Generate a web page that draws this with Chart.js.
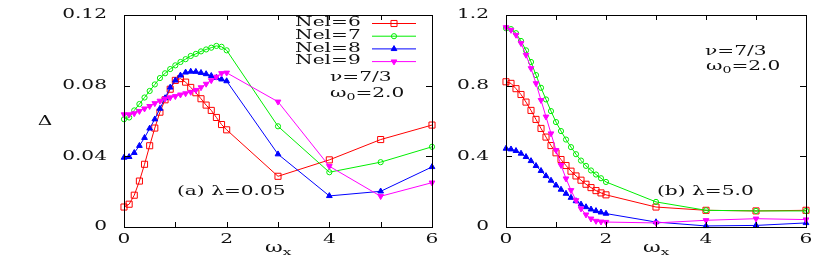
<!DOCTYPE html>
<html>
<head>
<meta charset="utf-8">
<script src="https://cdn.jsdelivr.net/npm/chart.js@4.4.1/dist/chart.umd.min.js"></script>
<style>
  html, body { margin: 0; padding: 0; background: #fff; }
  #wrap { position: relative; width: 830px; height: 273px; overflow: hidden; }
  #wrap canvas { position: absolute; top: 0; }
  #left { left: 0; }
  #right { left: 440px; }
</style>
</head>
<body>
<div id="wrap">
  <canvas id="left" width="440" height="273"></canvas>
  <canvas id="right" width="390" height="273"></canvas>
</div>
<script>
// omega_x sample points (same for every curve)
const omegaX = [0, 0.1, 0.2, 0.3, 0.4, 0.5, 0.6, 0.7, 0.8, 0.9, 1.0,
  1.1, 1.2, 1.3, 1.4, 1.5, 1.6, 1.7, 1.8, 1.9, 2.0, 3, 4, 5, 6];

const seriesNames = ['Nel=6', 'Nel=7', 'Nel=8', 'Nel=9'];

// (a) lambda = 0.05
const gapA6 = [0.0113, 0.0129, 0.018, 0.026, 0.0355, 0.046, 0.056, 0.065, 0.072, 0.078, 0.083,
  0.084, 0.082, 0.079, 0.076, 0.0726, 0.069, 0.066, 0.062, 0.058, 0.055, 0.0287, 0.038, 0.0495, 0.0577];
const gapA7 = [0.061, 0.062, 0.066, 0.0696, 0.0733, 0.077, 0.0807, 0.0843, 0.087, 0.0894, 0.0915,
  0.0934, 0.095, 0.0968, 0.098, 0.0994, 0.1005, 0.1015, 0.1025, 0.102, 0.100, 0.057, 0.031, 0.0367, 0.0454];
const gapA8 = [0.0393, 0.0397, 0.042, 0.046, 0.0505, 0.0558, 0.061, 0.067, 0.073, 0.079, 0.083,
  0.0858, 0.0875, 0.088, 0.0879, 0.0873, 0.0866, 0.0856, 0.0845, 0.0836, 0.0826, 0.0412, 0.0176, 0.0202, 0.034];
const gapA9 = [0.0637, 0.0637, 0.0643, 0.0656, 0.067, 0.0684, 0.070, 0.0714, 0.0726, 0.0733, 0.074,
  0.0749, 0.0756, 0.0764, 0.0775, 0.079, 0.081, 0.083, 0.085, 0.087, 0.0873, 0.0709, 0.0344, 0.0174, 0.0251];

// (b) lambda = 5.0
const gapB6 = [0.822, 0.813, 0.783, 0.75, 0.707, 0.66, 0.609, 0.558, 0.509, 0.461, 0.42,
  0.382, 0.348, 0.316, 0.289, 0.265, 0.242, 0.223, 0.206, 0.193, 0.182, 0.113, 0.0945, 0.091, 0.0945];
const gapB7 = [1.125, 1.12, 1.097, 1.053, 1.0, 0.934, 0.86, 0.788, 0.722, 0.656, 0.594,
  0.543, 0.495, 0.452, 0.412, 0.376, 0.346, 0.32, 0.297, 0.276, 0.255, 0.142, 0.0945, 0.091, 0.091];
const gapB8 = [0.444, 0.44, 0.431, 0.416, 0.397, 0.374, 0.346, 0.318, 0.289, 0.263, 0.236,
  0.212, 0.189, 0.166, 0.147, 0.128, 0.113, 0.1, 0.091, 0.083, 0.076, 0.028, 0.006, 0.009, 0.023];
const gapB9 = [1.13, 1.115, 1.087, 1.04, 0.974, 0.898, 0.813, 0.718, 0.624, 0.529, 0.435,
  0.35, 0.274, 0.208, 0.151, 0.104, 0.07, 0.047, 0.034, 0.03, 0.028, 0.023, 0.038, 0.047, 0.042];

// axis ticks
const xTickLabels = ['0', '2', '4', '6'];
const yTicksA = [0, 0.04, 0.08, 0.12];
const yTickLabelsA = ['0', '0.04', '0.08', '0.12'];
const yTicksB = [0, 0.4, 0.8, 1.2];
const yTickLabelsB = ['0', '0.4', '0.8', '1.2'];

const FONT = '"DejaVu Serif", serif';
const SX = 1.55;     // glyphs in the original are stretched sideways
const INK = '#111';

const styles = [
  { color: '#ff0000', point: 'rect', radius: 4.3, fill: 'rgba(0,0,0,0)', rot: 0 },
  { color: '#00ee00', point: 'circle', radius: 2.6, fill: 'rgba(0,0,0,0)', rot: 0 },
  { color: '#0000ff', point: 'triangle', radius: 3.3, fill: '#0000ff', rot: 0 },
  { color: '#ff00ff', point: 'triangle', radius: 3.3, fill: '#ff00ff', rot: 180 }
];

function makeDatasets(lists) {
  return lists.map((vals, i) => ({
    label: seriesNames[i],
    data: omegaX.map((x, k) => ({ x: x, y: vals[k] })),
    borderColor: styles[i].color,
    borderWidth: 1,
    pointStyle: styles[i].point,
    pointRadius: styles[i].radius,
    pointRotation: styles[i].rot,
    pointBackgroundColor: styles[i].fill,
    pointBorderColor: styles[i].color,
    pointBorderWidth: 1,
    tension: 0,
    clip: false,
    order: 4 - i
  }));
}

function stretchText(ctx, str, x, y, align, size) {
  ctx.save();
  ctx.font = size + 'px ' + FONT;
  ctx.translate(x, y);
  ctx.scale(SX, 1);
  ctx.textAlign = align || 'left';
  ctx.textBaseline = 'middle';
  ctx.fillText(str, 0, 0);
  const w = ctx.measureText(str).width * SX;
  ctx.restore();
  return w;
}

// text made of pieces: [string, isSubscript]
function richText(ctx, parts, x, y, size) {
  let cx = x;
  parts.forEach(p => {
    if (p[1]) {
      cx += stretchText(ctx, p[0], cx, y + size * 0.3, 'left', size * 0.7);
    } else {
      cx += stretchText(ctx, p[0], cx, y, 'left', size);
    }
  });
}

function marker(ctx, st, x, y) {
  ctx.save();
  ctx.strokeStyle = st.color;
  ctx.fillStyle = st.fill;
  ctx.lineWidth = 1;
  ctx.beginPath();
  const r = st.radius;
  if (st.point === 'rect') {
    const s = Math.SQRT1_2 * r;
    ctx.rect(x - s, y - s, 2 * s, 2 * s);
  } else if (st.point === 'circle') {
    ctx.arc(x, y, r, 0, Math.PI * 2);
  } else {
    const a0 = (st.rot - 90) * Math.PI / 180;
    for (let k = 0; k < 3; k++) {
      const a = a0 + k * 2 * Math.PI / 3;
      const px = x + Math.cos(a) * r, py = y + Math.sin(a) * r;
      if (k === 0) ctx.moveTo(px, py); else ctx.lineTo(px, py);
    }
    ctx.closePath();
  }
  ctx.fill();
  ctx.stroke();
  ctx.restore();
}

const framePlugin = {
  id: 'frame',
  afterDraw(chart, args, opts) {
    const { ctx, chartArea: a, scales: { x, y } } = chart;
    ctx.save();
    ctx.strokeStyle = '#000';
    ctx.lineWidth = 1;
    ctx.strokeRect(Math.round(a.left) + 0.5, Math.round(a.top) + 0.5,
      Math.round(a.width), Math.round(a.height));
    ctx.beginPath();
    x.ticks.forEach(t => {
      const px = Math.round(x.getPixelForValue(t.value)) + 0.5;
      ctx.moveTo(px, a.bottom); ctx.lineTo(px, a.bottom - 5);
      ctx.moveTo(px, a.top); ctx.lineTo(px, a.top + 5);
    });
    opts.yTicks.forEach(v => {
      const py = Math.round(y.getPixelForValue(v)) + 0.5;
      ctx.moveTo(a.left, py); ctx.lineTo(a.left + 6, py);
      ctx.moveTo(a.right, py); ctx.lineTo(a.right - 6, py);
    });
    ctx.stroke();

    ctx.fillStyle = INK;
    opts.yTicks.forEach((v, i) => {
      stretchText(ctx, opts.yLabels[i], a.left - 17, y.getPixelForValue(v), 'right', 13);
    });
    xTickLabels.forEach(s => {
      stretchText(ctx, s, x.getPixelForValue(Number(s)), 240, 'center', 13);
    });
    // axis titles
    const xc = (a.left + a.right) / 2;
    richText(ctx, [['ω', false], ['x', true]], xc - 13, 248, 14);
    if (opts.yTitle) stretchText(ctx, opts.yTitle, 45, 122, 'center', 13);

    opts.notes.forEach(n => richText(ctx, n.parts, n.x, n.y, 13));

    if (opts.legend) {
      const lg = opts.legend;
      chart.data.datasets.forEach((ds, i) => {
        const ly = lg.y + i * 12.7;
        ctx.fillStyle = INK;
        stretchText(ctx, ds.label, lg.x, ly, 'left', 13);
        ctx.strokeStyle = styles[i].color;
        ctx.lineWidth = 1;
        ctx.beginPath();
        ctx.moveTo(lg.lineFrom, ly + 0.5);
        ctx.lineTo(lg.lineTo, ly + 0.5);
        ctx.stroke();
        marker(ctx, styles[i], (lg.lineFrom + lg.lineTo) / 2, ly + 0.5);
      });
    }
    ctx.restore();
  }
};

function makeChart(id, lists, yMax, frameOpts, padding, yWidth) {
  return new Chart(document.getElementById(id), {
    type: 'line',
    data: { datasets: makeDatasets(lists) },
    options: {
      responsive: false,
      animation: false,
      events: [],
      layout: { padding: padding },
      plugins: {
        legend: { display: false },
        tooltip: { enabled: false },
        frame: frameOpts
      },
      scales: {
        x: {
          type: 'linear', min: 0, max: 6,
          ticks: { display: false, stepSize: 1 },
          grid: { display: false },
          border: { display: false },
          afterFit: s => { s.height = 46; }
        },
        y: {
          type: 'linear', min: 0, max: yMax,
          ticks: { display: false },
          grid: { display: false },
          border: { display: false },
          afterFit: s => { s.width = yWidth; }
        }
      }
    },
    plugins: [framePlugin]
  });
}

makeChart('left', [gapA6, gapA7, gapA8, gapA9], 0.12, {
  yTicks: yTicksA,
  yLabels: yTickLabelsA,
  yTitle: 'Δ',
  notes: [
    { x: 330, y: 78, parts: [['ν=7/3', false]] },
    { x: 330, y: 94, parts: [['ω', false], ['0', true], ['=2.0', false]] },
    { x: 177, y: 192, parts: [['(a) λ=0.05', false]] }
  ],
  legend: { x: 295, y: 23, lineFrom: 372, lineTo: 416 }
}, { left: 0, top: 15, right: 8, bottom: 0 }, 124);

makeChart('right', [gapB6, gapB7, gapB8, gapB9], 1.2, {
  yTicks: yTicksB,
  yLabels: yTickLabelsB,
  yTitle: null,
  notes: [
    { x: 265, y: 52, parts: [['ν=7/3', false]] },
    { x: 266, y: 67, parts: [['ω', false], ['0', true], ['=2.0', false]] },
    { x: 217, y: 192, parts: [['(b) λ=5.0', false]] }
  ],
  legend: null
}, { left: 0, top: 15, right: 24, bottom: 0 }, 66);
</script>
</body>
</html>
